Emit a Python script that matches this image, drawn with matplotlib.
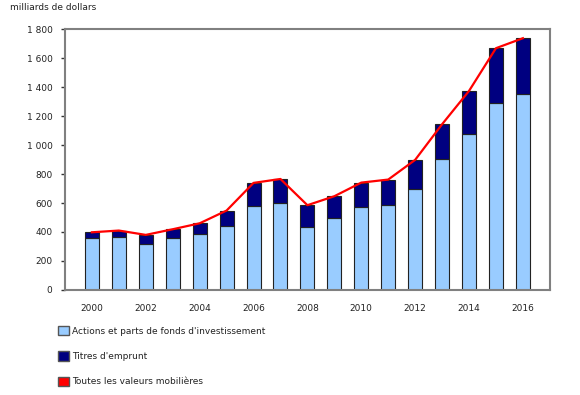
import matplotlib.pyplot as plt
from matplotlib.patches import Patch
from matplotlib.ticker import FuncFormatter

# values (billions of dollars)
years = list(range(2000, 2017))
equity = [359, 366, 320, 357, 384, 442, 580, 603, 433, 499, 575, 589, 695, 907, 1079, 1290, 1351]
total = [398, 410, 380, 419, 460, 548, 739, 766, 585, 647, 741, 762, 898, 1144, 1374, 1669, 1738]
debt = [t - e for t, e in zip(total, equity)]

labels = ["Actions et parts de fonds d'investissement",
          "Titres d'emprunt",
          "Toutes les valeurs mobilières"]
light_blue = "#99CCFF"
navy = "#000080"
red = "#FF0000"

plt.rcParams['font.family'] = ['DejaVu Sans']
plt.rcParams['font.size'] = 6.5

fig = plt.figure(figsize=(5.8, 3.95), dpi=100)
ax = fig.add_axes([0.112, 0.266, 0.836, 0.660])

ax.bar(years, equity, width=0.52, color=light_blue, edgecolor="#222222", linewidth=0.8, zorder=2)
ax.bar(years, debt, bottom=equity, width=0.52, color=navy, edgecolor="#222222", linewidth=0.8, zorder=2)
ax.plot(years, total, color=red, linewidth=1.6, zorder=3)

ax.set_xlim(1999, 2017)
ax.set_ylim(0, 1800)
ax.set_yticks(range(0, 1801, 200))
ax.yaxis.set_major_formatter(FuncFormatter(lambda v, p: "{:,.0f}".format(v).replace(",", " ")))
ax.set_xticks(years[::2])
ax.tick_params(axis="x", length=0, pad=10, colors="#222222")
ax.tick_params(axis="y", length=3, width=1, color="#333333", pad=6, colors="#222222")
for s in ax.spines.values():
    s.set_color("#808080")
    s.set_linewidth(1.5)

fig.text(0.018, 0.98, "milliards de dollars", ha="left", va="center", fontsize=6.5, color="#222222")

handles = [Patch(facecolor=light_blue, edgecolor="#555555"),
           Patch(facecolor=navy, edgecolor="#555555"),
           Patch(facecolor=red, edgecolor="#555555")]
fig.legend(handles, labels, loc="upper left", bbox_to_anchor=(0.1, 0.175), frameon=False,
           borderpad=0, borderaxespad=0,
           handlelength=1.2, handleheight=1.2, handletextpad=0.35, labelspacing=1.75,
           fontsize=6.5, labelcolor="#222222")

fig.savefig("out.png", dpi=100)
